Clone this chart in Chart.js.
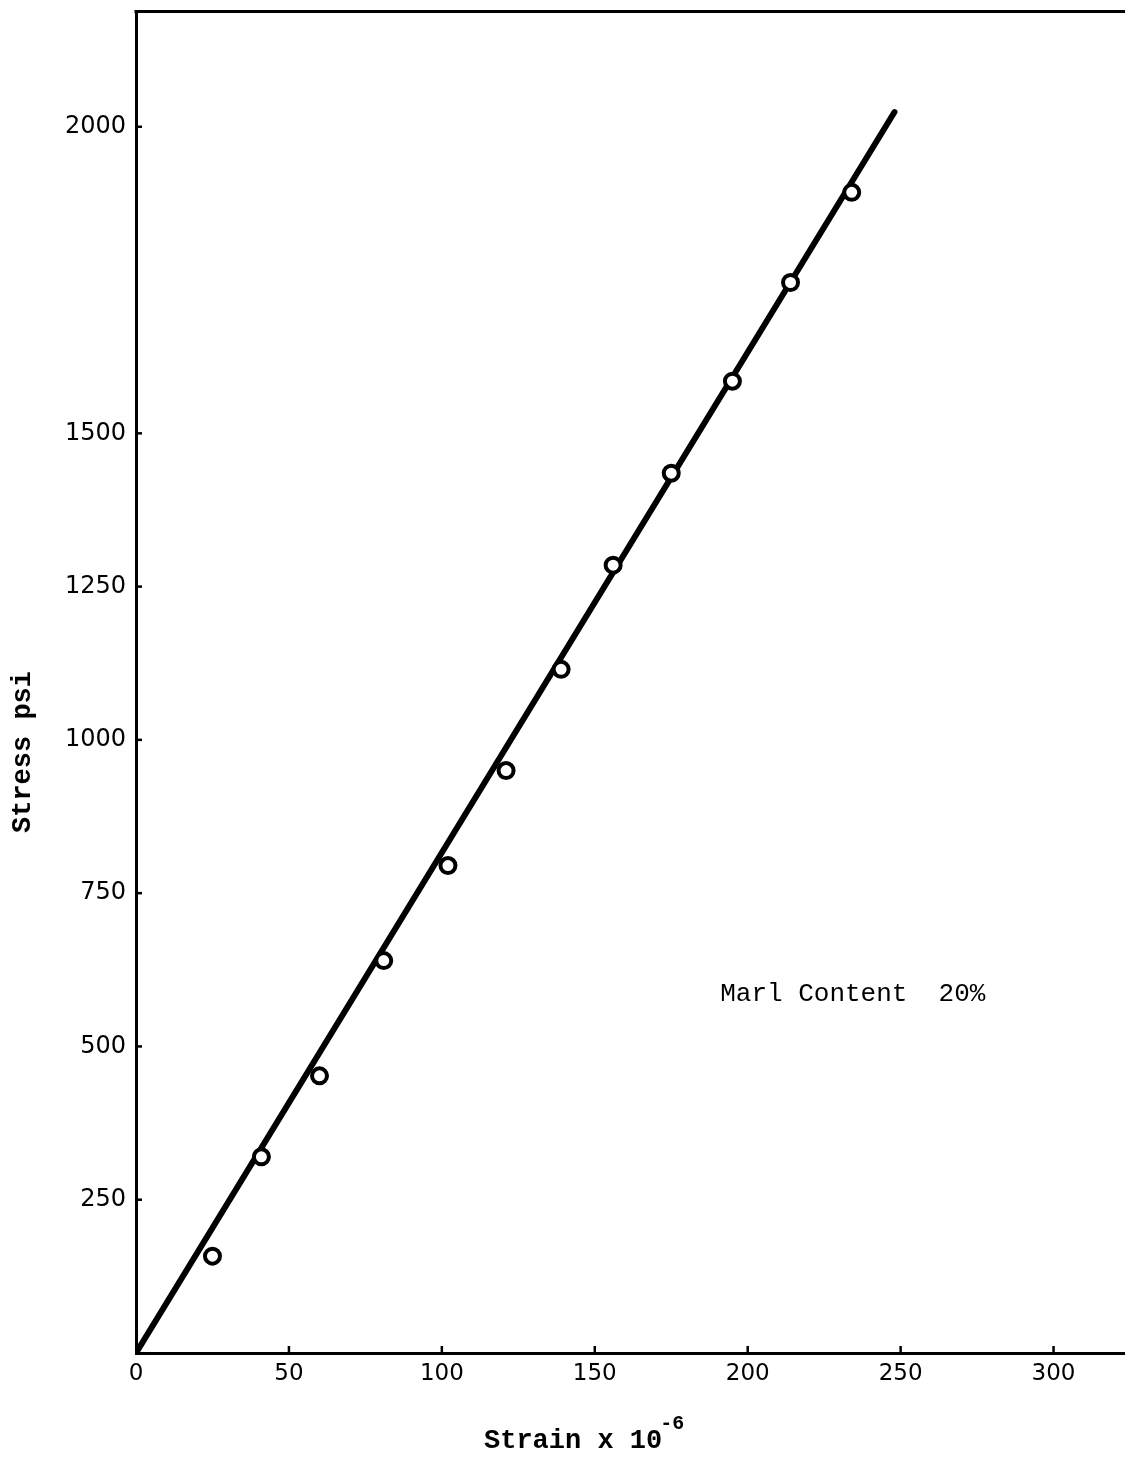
<!DOCTYPE html>
<html lang="en">
<head>
  <meta charset="UTF-8">
  <title>Stress vs Strain - Marl Content 20%</title>
  <style>
    html, body {
      margin: 0;
      padding: 0;
      overflow: hidden;
      background-color: #fff;
    }

    .chart-box {
      width: 1125px;
      height: 1459px;
    }

    canvas {
      display: block;
    }
  </style>
  <script src="https://cdn.jsdelivr.net/npm/chart.js"></script>
</head>
<body>
  <div class="chart-box">
    <canvas id="stressChart" width="1125" height="1459"></canvas>
  </div>

  <script>
    // measured points (strain x 10^-6, stress psi)
    const strainValues = [25, 41, 60, 81, 102, 121, 139, 156, 175, 195, 214, 234];
    const stressValues = [158, 320, 452, 640, 795, 950, 1115, 1285, 1435, 1585, 1746, 1893];

    // fitted straight line, drawn from the origin
    const fitStrain = [0, 248];
    const fitStress = [0, 2024];

    const xTicks = [0, 50, 100, 150, 200, 250, 300];
    const yTicks = [250, 500, 750, 1000, 1250, 1500, 2000];

    const noteText = "Marl Content  20%";
    const notePos = [191, 585];

    const pts = strainValues.map((x, i) => ({ x: x, y: stressValues[i] }));
    const fit = fitStrain.map((x, i) => ({ x: x, y: fitStress[i] }));

    // same pixel snapping as Chart.js uses for its border
    function snap(p, w) {
      return Math.round(p - w / 2) + w / 2;
    }

    // small inward ticks, frame lines, annotation and axis titles
    const extras = {
      id: "extras",
      afterDraw(chart) {
        const ctx = chart.ctx;
        const xs = chart.scales.x;
        const ys = chart.scales.y;
        const area = chart.chartArea;
        ctx.save();
        ctx.strokeStyle = "#000";
        ctx.lineWidth = 2.5;
        xTicks.forEach(v => {
          if (v === 0) return;
          const px = xs.getPixelForValue(v);
          ctx.beginPath();
          ctx.moveTo(px, area.bottom);
          ctx.lineTo(px, area.bottom - 7);
          ctx.stroke();
        });
        yTicks.forEach(v => {
          const py = ys.getPixelForValue(v);
          ctx.beginPath();
          ctx.moveTo(area.left, py);
          ctx.lineTo(area.left + 6, py);
          ctx.stroke();
        });

        // top frame line, and bottom axis carried on to the page edge
        ctx.lineWidth = 3;
        ctx.lineCap = "butt";
        const topY = snap(area.top, 3);
        const botY = snap(xs.top, 3);
        ctx.beginPath();
        ctx.moveTo(area.left - 1.5, topY);
        ctx.lineTo(chart.width, topY);
        ctx.moveTo(area.right - 4, botY);
        ctx.lineTo(chart.width, botY);
        ctx.stroke();

        ctx.fillStyle = "#000";
        ctx.textBaseline = "middle";
        ctx.textAlign = "left";
        ctx.font = "26px 'Liberation Mono', monospace";
        ctx.fillText(noteText, xs.getPixelForValue(notePos[0]), ys.getPixelForValue(notePos[1]));

        // x axis title with superscript
        ctx.font = "bold 27px 'Liberation Mono', monospace";
        const base = "Strain x 10";
        const w = ctx.measureText(base).width;
        const startX = 484;
        const baseY = 1441;
        ctx.fillText(base, startX, baseY);
        ctx.font = "bold 20px 'Liberation Mono', monospace";
        ctx.fillText("-6", startX + w - 2, baseY - 17);

        // y axis title
        ctx.translate(23, 752);
        ctx.rotate(-Math.PI / 2);
        ctx.textAlign = "center";
        ctx.font = "bold 27px 'Liberation Mono', monospace";
        ctx.fillText("Stress psi", 0, 0);
        ctx.restore();
      }
    };

    new Chart(document.getElementById("stressChart"), {
      type: "scatter",
      data: {
        datasets: [
          {
            label: "Measured",
            data: pts,
            order: 0,
            pointRadius: 7.5,
            pointHoverRadius: 7.5,
            pointBorderWidth: 4,
            pointBorderColor: "#000",
            pointBackgroundColor: "#fff",
            showLine: false
          },
          {
            label: "Fit",
            data: fit,
            order: 1,
            showLine: true,
            borderColor: "#000",
            borderWidth: 6,
            pointRadius: 0,
            borderCapStyle: "round"
          }
        ]
      },
      options: {
        responsive: false,
        animation: false,
        layout: { padding: { top: 10, right: 0, left: 0, bottom: 0 } },
        plugins: {
          legend: { display: false },
          tooltip: { enabled: false }
        },
        scales: {
          x: {
            type: "linear",
            min: 0,
            max: 319.6,
            afterBuildTicks: s => { s.ticks = xTicks.map(v => ({ value: v })); },
            afterFit: s => { s.height = 106; s.paddingLeft = 0; s.paddingRight = 0; },
            grid: { display: true, drawOnChartArea: false, drawTicks: false },
            border: { display: true, color: "#000", width: 3 },
            ticks: {
              color: "#000",
              padding: 7,
              callback: v => String(v),
              font: { family: "'DejaVu Sans'", size: 23 }
            }
          },
          y: {
            type: "linear",
            min: 0,
            max: 2188,
            afterBuildTicks: s => { s.ticks = yTicks.map(v => ({ value: v })); },
            afterFit: s => { s.width = 136; s.paddingTop = 0; s.paddingBottom = 0; },
            grid: { display: true, drawOnChartArea: false, drawTicks: false },
            border: { display: true, color: "#000", width: 3 },
            ticks: {
              color: "#000",
              padding: 10,
              callback: v => String(v),
              font: { family: "'DejaVu Sans'", size: 24 }
            }
          }
        }
      },
      plugins: [extras]
    });
  </script>
</body>
</html>
